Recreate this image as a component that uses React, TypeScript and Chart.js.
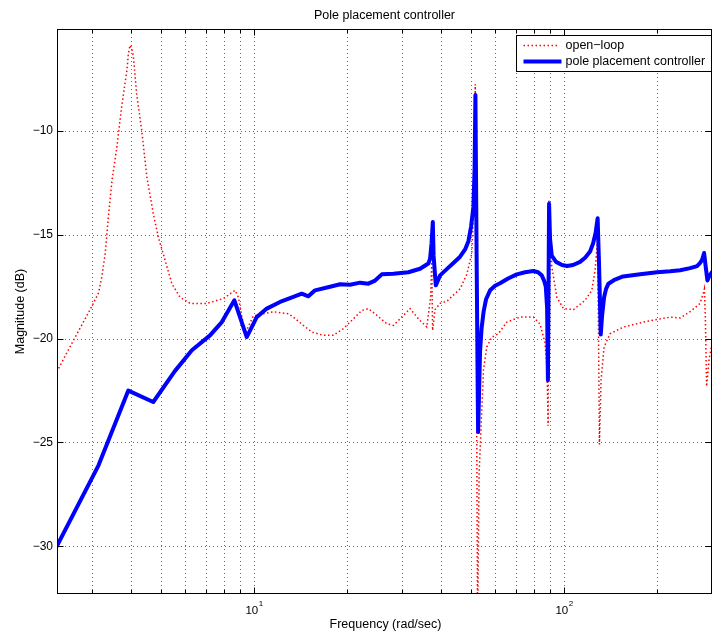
import React, { useEffect, useRef } from "react";
import { Chart, registerables } from "chart.js";

Chart.register(...registerables);

// ---------- data ----------
const freqOpen = [
  2.31, 2.61, 2.96, 3.15, 3.23, 3.31, 3.39, 3.48, 3.61, 3.74, 3.89, 3.93, 3.98, 4.03, 4.08, 4.18, 4.34,
  4.51, 4.73, 4.91, 5.16, 5.43, 5.77, 6.22, 7.04, 7.96, 8.68, 8.9, 9.35, 9.95, 11.54, 12.9, 13.39, 14.42,
  15.35, 16.73, 18.03, 19.41, 20.66, 22.26, 23.37, 24.88, 26.8, 28.14, 29.96, 31.86, 33.88, 36.07,
  37.11, 37.43, 37.66, 38.37, 39.81, 41.84, 43.96, 46.19, 48.55, 50.38, 51.26, 51.7, 52.13, 52.6, 53.2,
  54.25, 54.95, 56.31, 58.45, 61.39, 65.34, 72.14, 79.62, 83.66, 86.82, 88.15, 88.81, 89.33, 91.25,
  94.74, 99.48, 107.2, 116.9, 122.9, 125.9, 128.1, 129.2, 130.0, 131.6, 134.6, 140.7, 155.4, 180.3,
  219.8, 236.7, 255.0, 274.6, 281.4, 283.5, 285.6, 288.2, 293.6, 300.2,
];
const magOpen = [
  -21.6, -20.1, -18.6, -17.8, -17.0, -15.9, -14.1, -12.4, -10.76, -8.83, -7.06, -6.3, -5.86, -6.0,
  -6.4, -8.2, -9.95, -12.2, -13.97, -15.1, -16.2, -17.35, -18.0, -18.3, -18.3, -18.07, -17.67, -18.0,
  -19.75, -18.9, -18.7, -18.8, -18.96, -19.36, -19.68, -19.84, -19.84, -19.52, -19.12, -18.64, -18.55,
  -18.87, -19.28, -19.36, -18.96, -18.55, -19.04, -19.44, -18.0, -16.3, -19.6, -18.6, -18.3, -18.2,
  -17.9, -17.6, -16.9, -15.9, -13.2, -7.74, -20, -34, -26.5, -23.5, -21.5, -20.4, -19.93, -19.76,
  -19.2, -18.96, -18.96, -19.3, -20.2, -21.5, -24.2, -13.3, -16.5, -18.0, -18.55, -18.6, -18.15,
  -17.67, -16.7, -15.3, -20, -25.1, -22.0, -20.4, -19.76, -19.44, -19.2, -18.96, -19.0, -18.7, -18.3,
  -17.8, -17.6, -19, -22.3, -21.0, -20.2,
];

const freqPole = [
  2.31, 3.15, 3.93, 4.73, 5.56, 6.3, 7.21, 7.87, 8.64, 9.47, 10.2, 10.99, 12.13, 13.39, 14.25, 14.97,
  15.73, 17.59, 18.94, 20.4, 21.98, 23.37, 24.57, 25.82, 28.14, 31.46, 34.31, 36.5, 36.96, 37.37,
  37.72, 37.94, 38.57, 39.81, 41.84, 43.96, 46.19, 47.94, 49.14, 50.12, 50.99, 51.45, 51.76, 52.22,
  52.81, 53.2, 53.58, 54.19, 55.0, 56.02, 57.72, 59.9, 62.16, 65.97, 70.39, 74.84, 79.62, 82.45,
  84.72, 86.17, 87.3, 88.15, 88.7, 89.45, 90.1, 91.25, 94.2, 98.5, 102.2, 106.9, 112.6, 116.9, 121.3,
  124.1, 126.4, 128.3, 129.7, 131.3, 132.6, 134.6, 136.6, 139.0, 146.0, 155.0, 175.9, 199.5, 219.8,
  236.7, 255.0, 268.5, 274.6, 278.7, 282.9, 286.1, 290.0, 293.6, 299.6,
];
const magPole = [
  -30.0, -26.1, -22.5, -23.05, -21.55, -20.56, -19.84, -19.2, -18.15, -19.92, -18.96, -18.55, -18.23,
  -17.99, -17.83, -17.96, -17.67, -17.5, -17.38, -17.4, -17.3, -17.35, -17.2, -16.9, -16.87, -16.8,
  -16.63, -16.38, -16.15, -15.4, -14.38, -16.0, -17.43, -16.95, -16.65, -16.35, -16.05, -15.7, -15.3,
  -14.6, -13.65, -11.8, -8.26, -16, -24.5, -22.5, -20.6, -19.5, -18.7, -18.1, -17.67, -17.45, -17.33,
  -17.1, -16.9, -16.8, -16.74, -16.8, -16.95, -17.2, -17.5, -18.5, -22.0, -13.5, -15.2, -16.0, -16.3,
  -16.45, -16.5, -16.45, -16.3, -16.1, -15.8, -15.4, -14.9, -14.2, -16.5, -19.8, -18.9, -18.0, -17.6,
  -17.35, -17.15, -17.0, -16.9, -16.8, -16.75, -16.7, -16.6, -16.5, -16.35, -16.2, -15.87, -16.5,
  -17.2, -17.0, -16.8,
];

const xGridTicks = [3, 4, 5, 6, 7, 8, 9, 10, 20, 30, 40, 50, 60, 70, 80, 90, 100, 200, 300];
const xMajorTicks = [10, 100];
const yTicks = [-30, -25, -20, -15, -10];
const xMin = 2.314;
const xMax = 300;
const yMin = -32.3;
const yMax = -5.08;

const titleText = "Pole placement controller";
const xLabelText = "Frequency (rad/sec)";
const yLabelText = "Magnitude (dB)";
const seriesNames = ["open\u2212loop", "pole placement controller"];

const RED = "#ff0000";
const BLUE = "#0000ff";
const FONT = "'Liberation Sans', Arial, Helvetica, sans-serif";

const decorPlugin = {
  id: "decor",
  beforeDatasetsDraw(chart: any) {
    const { ctx, chartArea: a, scales } = chart;
    const x = scales.x;
    const y = scales.y;
    ctx.save();
    ctx.strokeStyle = "rgba(0,0,0,0.6)";
    ctx.lineWidth = 1;
    ctx.setLineDash([1, 3]);
    for (const t of xGridTicks) {
      const px = Math.round(x.getPixelForValue(t)) + 0.5;
      if (px <= a.left + 1 || px >= a.right - 1) continue;
      ctx.beginPath();
      ctx.moveTo(px, a.top);
      ctx.lineTo(px, a.bottom);
      ctx.stroke();
    }
    for (const t of yTicks) {
      const py = Math.round(y.getPixelForValue(t)) + 0.5;
      ctx.beginPath();
      ctx.moveTo(a.left, py);
      ctx.lineTo(a.right, py);
      ctx.stroke();
    }
    ctx.restore();
  },
  afterDatasetsDraw(chart: any) {
    const { ctx, chartArea: a, scales } = chart;
    const x = scales.x;
    const y = scales.y;
    ctx.save();
    ctx.setLineDash([]);
    ctx.strokeStyle = "#000";
    ctx.lineWidth = 1;
    const L = Math.round(a.left) + 0.5;
    const R = Math.round(a.right) - 0.5;
    const T = Math.round(a.top) + 0.5;
    const B = Math.round(a.bottom) - 0.5;
    ctx.strokeRect(L, T, R - L, B - T);

    // tick marks (inward)
    ctx.beginPath();
    for (const t of xGridTicks) {
      const px = Math.round(x.getPixelForValue(t)) + 0.5;
      if (px <= a.left + 1 || px >= a.right - 1) continue;
      const len = xMajorTicks.includes(t) ? 6 : 3.5;
      ctx.moveTo(px, B);
      ctx.lineTo(px, B - len);
      ctx.moveTo(px, T);
      ctx.lineTo(px, T + len);
    }
    for (const t of yTicks) {
      const py = Math.round(y.getPixelForValue(t)) + 0.5;
      ctx.moveTo(L, py);
      ctx.lineTo(L + 6, py);
      ctx.moveTo(R, py);
      ctx.lineTo(R - 6, py);
    }
    ctx.stroke();

    // x tick labels 10^n
    ctx.fillStyle = "#000";
    ctx.textBaseline = "alphabetic";
    for (const t of xMajorTicks) {
      const px = x.getPixelForValue(t);
      const exp = String(Math.round(Math.log10(t)));
      ctx.font = `11.5px ${FONT}`;
      const wBase = ctx.measureText("10").width;
      ctx.font = `8px ${FONT}`;
      const wExp = ctx.measureText(exp).width;
      const start = px - (wBase + wExp) / 2;
      ctx.font = `11.5px ${FONT}`;
      ctx.textAlign = "left";
      ctx.fillText("10", start, a.bottom + 19.5);
      ctx.font = `8px ${FONT}`;
      ctx.fillText(exp, start + wBase + 0.5, a.bottom + 12);
    }

    // title
    const cx = (a.left + a.right) / 2;
    ctx.font = `12.5px ${FONT}`;
    ctx.textAlign = "center";
    ctx.fillText(titleText, cx, 18.5);
    // x label
    ctx.fillText(xLabelText, cx + 1, a.bottom + 33.5);
    // y label
    ctx.save();
    ctx.translate(23.5, (a.top + a.bottom) / 2);
    ctx.rotate(-Math.PI / 2);
    ctx.fillText(yLabelText, 0, 0);
    ctx.restore();

    // legend
    const lw = 195;
    const lh = 36;
    const lx = Math.round(a.right) - lw - 0.5;
    const ly = Math.round(a.top) + 6.5;
    ctx.fillStyle = "#fff";
    ctx.fillRect(lx, ly, lw, lh);
    ctx.strokeStyle = "#000";
    ctx.lineWidth = 1;
    ctx.strokeRect(lx, ly, lw, lh);
    const y1 = ly + 10;
    const y2 = ly + 26;
    ctx.strokeStyle = RED;
    ctx.lineWidth = 1.5;
    ctx.setLineDash([1.5, 2.5]);
    ctx.beginPath();
    ctx.moveTo(lx + 7, y1);
    ctx.lineTo(lx + 43, y1);
    ctx.stroke();
    ctx.setLineDash([]);
    ctx.strokeStyle = BLUE;
    ctx.lineWidth = 4;
    ctx.beginPath();
    ctx.moveTo(lx + 7, y2);
    ctx.lineTo(lx + 45, y2);
    ctx.stroke();
    ctx.fillStyle = "#000";
    ctx.font = `12.5px ${FONT}`;
    ctx.textAlign = "left";
    ctx.textBaseline = "middle";
    ctx.fillText(seriesNames[0], lx + 49, y1);
    ctx.fillText(seriesNames[1], lx + 49, y2);
    ctx.restore();
  },
};

export default function App() {
  const ref = useRef<HTMLCanvasElement | null>(null);

  useEffect(() => {
    if (!ref.current) return;
    const openData = freqOpen.map((f, i) => ({ x: f, y: magOpen[i] }));
    const poleData = freqPole.map((f, i) => ({ x: f, y: magPole[i] }));
    const chart = new Chart(ref.current, {
      type: "line",
      data: {
        datasets: [
          {
            label: seriesNames[0],
            data: openData,
            borderColor: RED,
            borderWidth: 1.5,
            borderDash: [1.5, 2.5],
            pointRadius: 0,
            tension: 0,
            fill: false,
            clip: 0,
            order: 1,
          },
          {
            label: seriesNames[1],
            data: poleData,
            borderColor: BLUE,
            borderWidth: 4,
            borderJoinStyle: "round",
            borderCapStyle: "round",
            pointRadius: 0,
            tension: 0,
            fill: false,
            clip: 0,
            order: 0,
          },
        ],
      },
      options: {
        responsive: false,
        animation: false,
        events: [],
        layout: { padding: { top: 29, right: 4, left: 0, bottom: 0 } },
        plugins: {
          legend: { display: false },
          title: { display: false },
          tooltip: { enabled: false },
        },
        scales: {
          x: {
            type: "logarithmic",
            min: xMin,
            max: xMax,
            grid: { display: false },
            border: { display: false },
            ticks: { display: false },
            afterFit: (s: any) => {
              s.height = 46;
            },
          },
          y: {
            type: "linear",
            min: yMin,
            max: yMax,
            grid: { display: false, drawTicks: false },
            border: { display: false },
            afterBuildTicks: (s: any) => {
              s.ticks = yTicks.map((v) => ({ value: v }));
            },
            ticks: {
              padding: 4,
              color: "#000",
              font: { family: FONT, size: 12 },
              callback: (v: any) => (Number(v) < 0 ? "\u2212" + Math.abs(Number(v)) : String(v)),
            },
            afterFit: (s: any) => {
              s.width = 57;
            },
          },
        },
      },
      plugins: [decorPlugin],
    } as any);
    return () => chart.destroy();
  }, []);

  return (
    <div style={{ position: "absolute", left: 0, top: 0, width: 716, height: 640, background: "#fff" }}>
      <canvas ref={ref} width={716} height={640} style={{ display: "block", width: 716, height: 640 }} />
    </div>
  );
}
